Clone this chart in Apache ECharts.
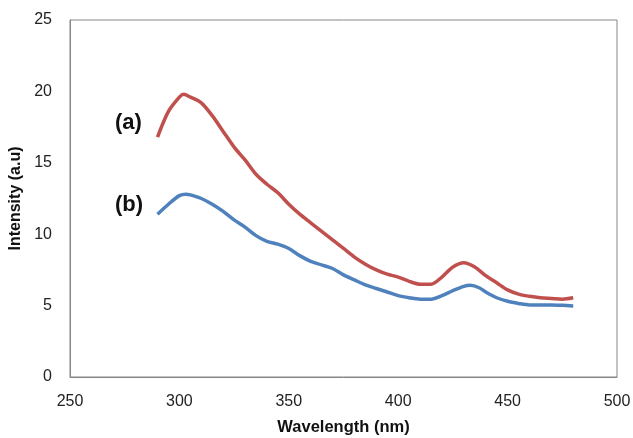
<!DOCTYPE html>
<html>
<head>
<meta charset="utf-8">
<script src="https://cdn.jsdelivr.net/npm/echarts@6/dist/echarts.min.js"></script>
<style>html,body{margin:0;padding:0;background:#fff}#c{width:633px;height:438px}</style>
</head>
<body>
<div id="c"></div>
<script>
var wavelengthA = [290,295,300,302,305,310,315,320,325,330,335,340,345,350,355,360,365,370,375,380,385,390,395,400,405,410,415,420,425,430,435,440,445,450,455,460,465,470,475,480];
var intensityA  = [16.8,18.6,19.6,19.8,19.6,19.2,18.3,17.2,16.1,15.2,14.2,13.5,12.9,12.1,11.4,10.8,10.2,9.6,9.0,8.4,7.9,7.5,7.2,7.0,6.7,6.5,6.5,7.0,7.7,8.0,7.7,7.1,6.6,6.1,5.8,5.65,5.55,5.5,5.45,5.55];
var wavelengthB = [290,295,300,303,305,310,315,320,325,330,335,340,345,350,355,360,365,370,375,380,385,390,395,400,405,410,415,420,425,430,433,437,440,445,450,455,460,465,470,475,480];
var intensityB  = [11.4,12.1,12.7,12.8,12.75,12.5,12.1,11.6,11.0,10.5,9.9,9.5,9.3,9.0,8.5,8.1,7.85,7.6,7.15,6.8,6.45,6.2,5.95,5.7,5.55,5.45,5.45,5.7,6.05,6.35,6.42,6.25,5.95,5.55,5.3,5.15,5.05,5.05,5.05,5.02,4.97];
var xTicks = {min: 250, max: 500, interval: 50};
var yTicks = {min: 0, max: 25, interval: 5};
var labelA = '(a)';
var labelB = '(b)';

function pairs(xs, ys){ return xs.map(function(x,i){ return [x, ys[i]]; }); }

var chart = echarts.init(document.getElementById('c'), null, {renderer:'canvas'});
var font = '"Liberation Sans", Arial, sans-serif';
chart.setOption({
  animation: false,
  backgroundColor: '#fff',
  grid: {left: 70, top: 20, right: 16, bottom: 61, outerBoundsMode: 'none', containLabel: false,
         show: true, borderColor: '#868686', borderWidth: 1, backgroundColor: 'transparent'},
  xAxis: {
    type: 'value', min: xTicks.min, max: xTicks.max, interval: xTicks.interval,
    name: 'Wavelength (nm)', nameLocation: 'middle', nameGap: 42,
    nameTextStyle: {fontFamily: font, fontWeight: 'bold', fontSize: 16.5, color: '#111'},
    axisLine: {show: true, lineStyle: {color: '#868686', width: 1}},
    axisTick: {show: false},
    splitLine: {show: false},
    axisLabel: {fontFamily: font, fontSize: 16, color: '#222', margin: 17}
  },
  yAxis: {
    type: 'value', min: yTicks.min, max: yTicks.max, interval: yTicks.interval,
    name: 'Intensity (a.u)', nameLocation: 'middle', nameGap: 45,
    nameTextStyle: {fontFamily: font, fontWeight: 'bold', fontSize: 16, color: '#111'},
    axisLine: {show: true, lineStyle: {color: '#868686', width: 1}},
    axisTick: {show: false},
    splitLine: {show: false},
    axisLabel: {fontFamily: font, fontSize: 16, color: '#222', margin: 18}
  },
  series: [
    {type: 'line', name: 'a', data: pairs(wavelengthA, intensityA), smooth: 0.3, showSymbol: false,
     lineStyle: {color: '#C0504D', width: 3.5}, itemStyle: {color: '#C0504D'}},
    {type: 'line', name: 'b', data: pairs(wavelengthB, intensityB), smooth: 0.3, showSymbol: false,
     lineStyle: {color: '#4F81BD', width: 3.5}, itemStyle: {color: '#4F81BD'}}
  ],
  graphic: [
    {type: 'text', left: 115, top: 112, style: {text: labelA, font: 'bold 22px ' + font, fill: '#111'}},
    {type: 'text', left: 115, top: 194, style: {text: labelB, font: 'bold 22px ' + font, fill: '#111'}}
  ]
});
</script>
</body>
</html>
